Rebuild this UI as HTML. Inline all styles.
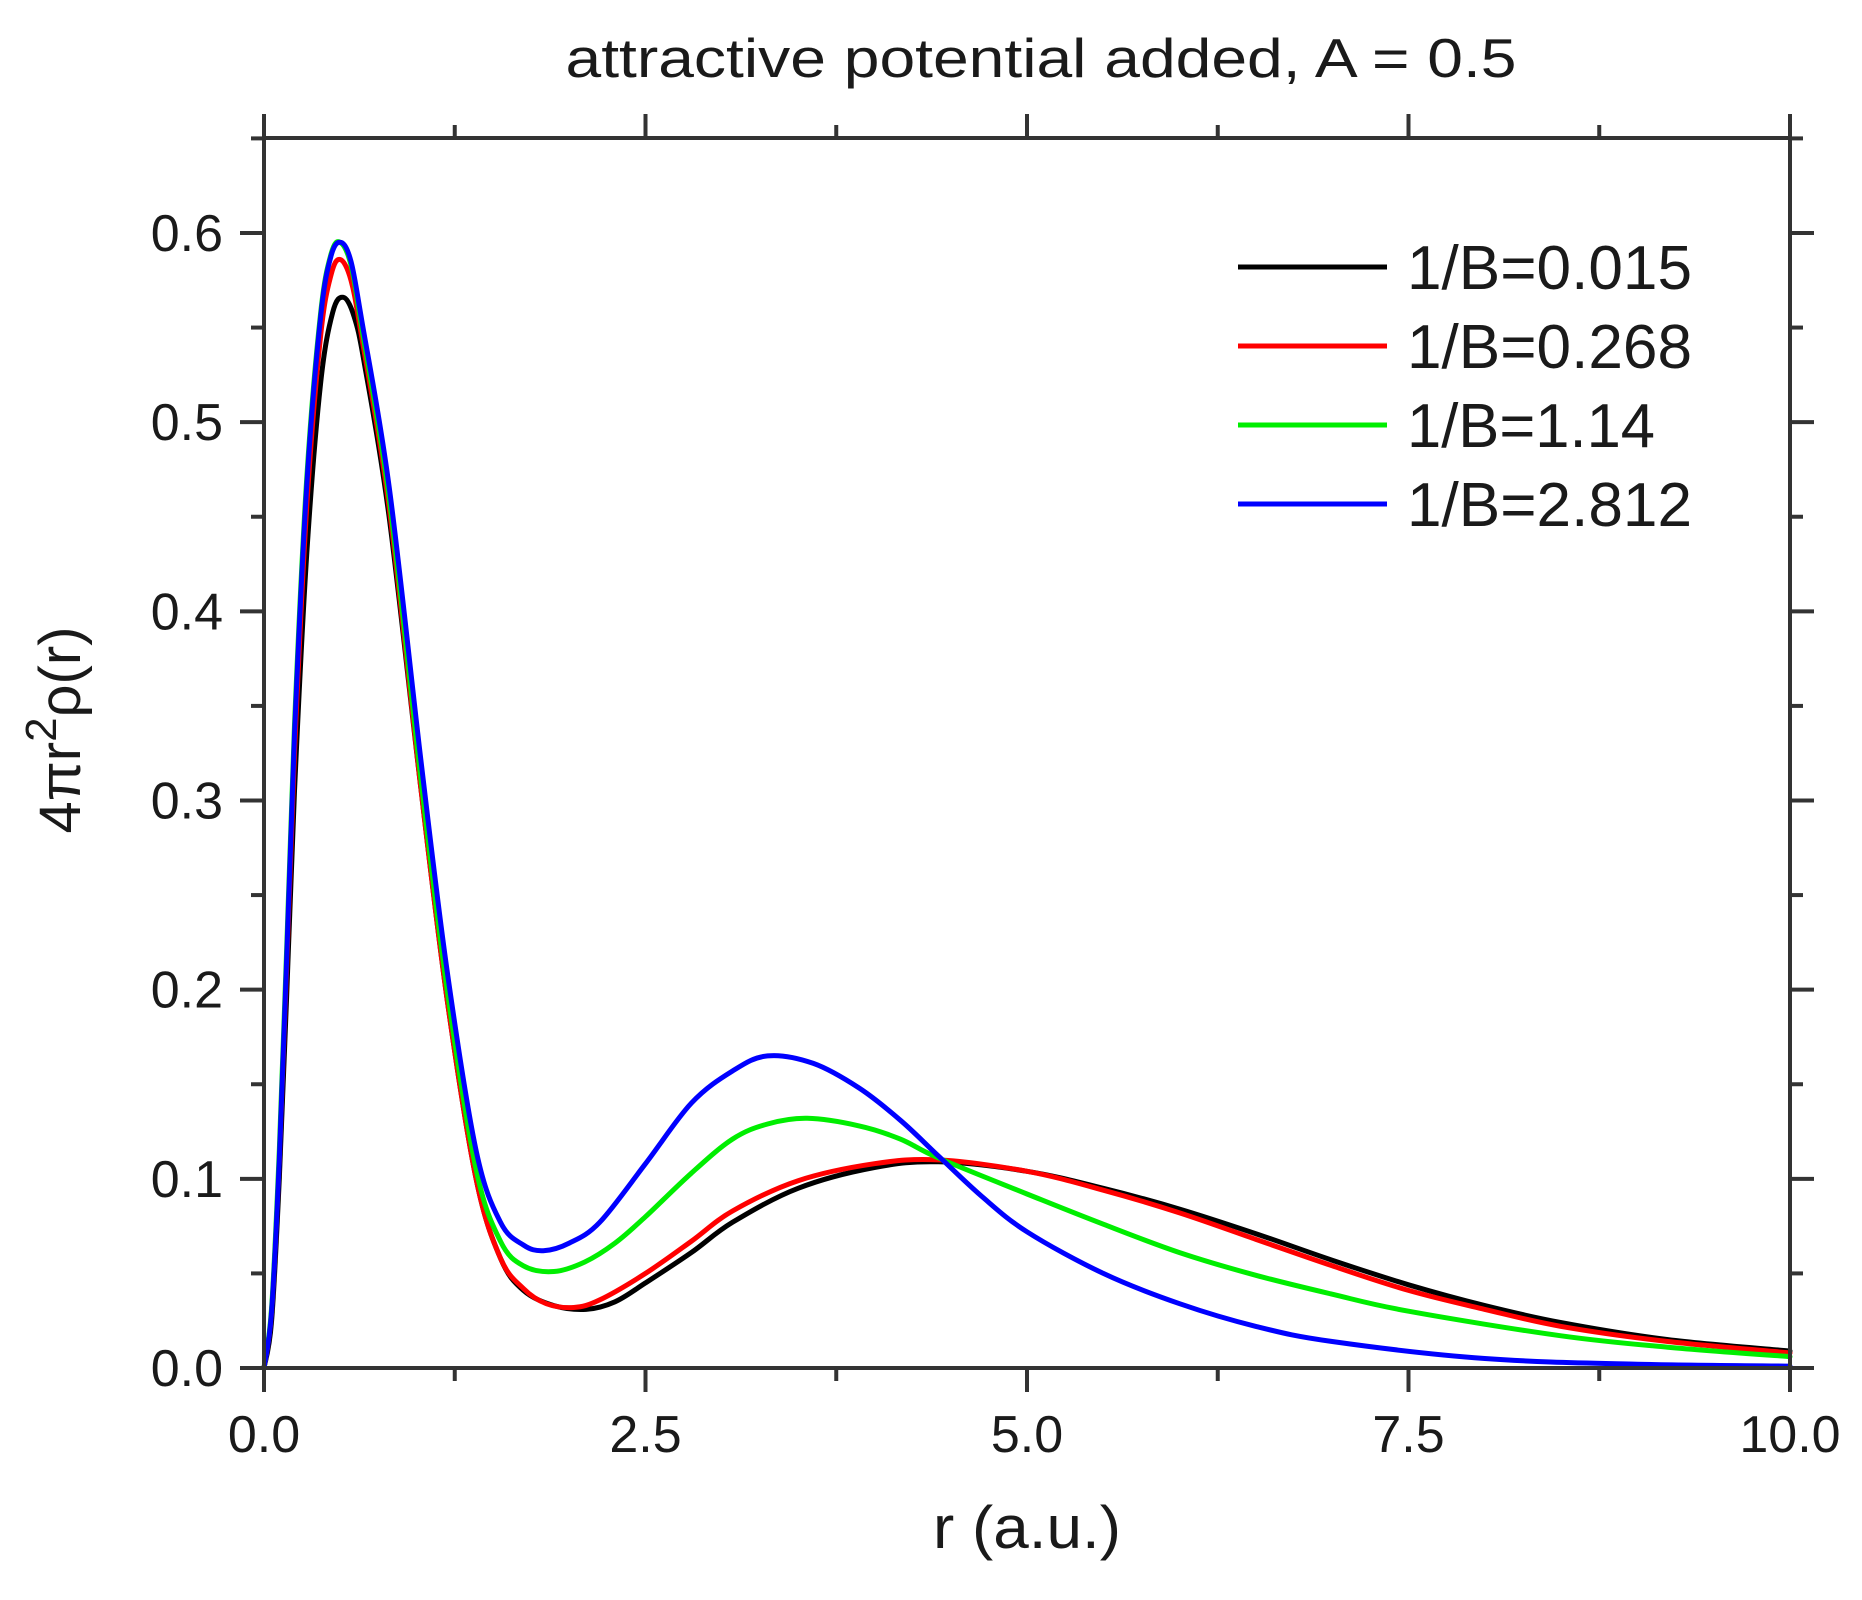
<!DOCTYPE html>
<html><head><meta charset="utf-8"><style>
html,body{margin:0;padding:0;background:#fff;}
svg{display:block;}
text{font-family:"Liberation Sans",Arial,sans-serif;fill:#1a1a1a;}
</style></head><body>
<svg id="s" width="1862" height="1600" viewBox="0 0 1862 1600" xmlns="http://www.w3.org/2000/svg">
<g id="curves" fill="none" stroke-width="5" stroke-linejoin="round" stroke-linecap="round"></g>
<g id="axes" stroke="#333" stroke-width="4" fill="none"></g>
<text x="1041" y="77" font-size="55" text-anchor="middle" textLength="951" lengthAdjust="spacingAndGlyphs">attractive potential added, A = 0.5</text>
<g font-size="52" text-anchor="end" id="yt"></g>
<g font-size="52" text-anchor="middle" id="xt"></g>
<text x="1027" y="1548" font-size="60" text-anchor="middle" textLength="188" lengthAdjust="spacingAndGlyphs">r (a.u.)</text>
<text transform="translate(80,730) rotate(-90)" font-size="58" text-anchor="middle">4πr<tspan font-size="44" dy="-24">2</tspan><tspan dy="24">ρ(r)</tspan></text>
<g font-size="62">
<line x1="1238" y1="267" x2="1387" y2="267" stroke="#000" stroke-width="5"/>
<text x="1407" y="289" textLength="285" lengthAdjust="spacingAndGlyphs">1/B=0.015</text>
<line x1="1238" y1="346" x2="1387" y2="346" stroke="#f00" stroke-width="5"/>
<text x="1407" y="368" textLength="285" lengthAdjust="spacingAndGlyphs">1/B=0.268</text>
<line x1="1238" y1="425" x2="1387" y2="425" stroke="#0e0" stroke-width="5"/>
<text x="1407" y="447" textLength="248" lengthAdjust="spacingAndGlyphs">1/B=1.14</text>
<line x1="1238" y1="504" x2="1387" y2="504" stroke="#00f" stroke-width="5"/>
<text x="1407" y="526" textLength="285" lengthAdjust="spacingAndGlyphs">1/B=2.812</text>
</g>
</svg>
<script>
var NS="http://www.w3.org/2000/svg";
var X0=264,X1=1790,Y0=1368,YT=138;
function px(r){return X0+r*(X1-X0)/10;}
function py(v){return Y0-v*1891.7;}
function el(n,a,p){var e=document.createElementNS(NS,n);for(var k in a)e.setAttribute(k,a[k]);p.appendChild(e);return e;}
var ax=document.getElementById('axes');
el('rect',{x:X0,y:YT,width:X1-X0,height:Y0-YT},ax);
for(var i=0;i<=8;i++){var r=i*1.25,x=px(r),L=(i%2==0)?24:13;
 el('line',{x1:x,y1:Y0,x2:x,y2:Y0+L},ax);el('line',{x1:x,y1:YT,x2:x,y2:YT-L},ax);}
for(var i=0;i<=13;i++){var v=i*0.05,y=py(v),L=(i%2==0)?24:13;
 el('line',{x1:X0,y1:y,x2:X0-L,y2:y},ax);el('line',{x1:X1,y1:y,x2:X1+L,y2:y},ax);}
var yt=document.getElementById('yt');
for(var i=0;i<=6;i++){var t=el('text',{x:223,y:py(i/10)+18},yt);t.textContent=(i/10).toFixed(1);}
var xt=document.getElementById('xt');
["0.0","2.5","5.0","7.5","10.0"].forEach(function(s,i){var t=el('text',{x:px(i*2.5),y:1452},xt);t.textContent=s;});
var D={
"#000":[[0,0],[0.05,0.025],[0.1,0.1],[0.15,0.2],[0.2,0.305],[0.28,0.43],[0.37,0.52],[0.45,0.558],[0.52,0.566],[0.59,0.556],[0.66,0.53],[0.82,0.45],[1.03,0.305],[1.2,0.195],[1.39,0.1],[1.55,0.058],[1.7,0.041],[1.9,0.033],[2.11,0.031],[2.3,0.035],[2.5,0.045],[2.8,0.061],[3.07,0.077],[3.5,0.095],[4.0,0.106],[4.42,0.109],[5,0.104],[5.5,0.095],[6,0.084],[6.5,0.071],[7,0.057],[7.5,0.044],[8,0.033],[8.5,0.024],[9.2,0.015],[10,0.009]],
"#f00":[[0,0],[0.05,0.03],[0.1,0.11],[0.15,0.215],[0.2,0.325],[0.28,0.455],[0.37,0.545],[0.44,0.578],[0.5,0.586],[0.57,0.575],[0.64,0.545],[0.82,0.455],[1.03,0.305],[1.2,0.195],[1.39,0.1],[1.55,0.058],[1.7,0.042],[1.85,0.034],[2.03,0.032],[2.2,0.036],[2.5,0.05],[2.8,0.067],[3.07,0.083],[3.5,0.099],[4.0,0.108],[4.42,0.110],[5,0.104],[5.5,0.094],[6,0.082],[6.5,0.068],[7,0.054],[7.5,0.041],[8,0.031],[8.5,0.022],[9.2,0.014],[10,0.008]],
"#0e0":[[0,0],[0.05,0.032],[0.1,0.115],[0.15,0.225],[0.2,0.34],[0.28,0.47],[0.37,0.557],[0.44,0.589],[0.5,0.595],[0.57,0.583],[0.64,0.55],[0.82,0.46],[1.03,0.31],[1.2,0.2],[1.39,0.105],[1.55,0.067],[1.7,0.054],[1.9,0.051],[2.1,0.056],[2.3,0.066],[2.5,0.08],[2.8,0.103],[3.07,0.121],[3.3,0.129],[3.56,0.132],[3.9,0.128],[4.17,0.121],[4.42,0.111],[5,0.092],[5.5,0.076],[6,0.061],[6.5,0.049],[7,0.039],[7.5,0.030],[8.5,0.017],[9.2,0.011],[10,0.006]],
"#00f":[[0,0],[0.05,0.03],[0.1,0.11],[0.15,0.22],[0.2,0.335],[0.28,0.466],[0.37,0.555],[0.44,0.588],[0.505,0.595],[0.57,0.585],[0.64,0.554],[0.82,0.466],[1.03,0.32],[1.2,0.21],[1.39,0.115],[1.55,0.077],[1.7,0.065],[1.83,0.062],[2.0,0.066],[2.2,0.077],[2.5,0.108],[2.8,0.140],[3.07,0.157],[3.3,0.165],[3.6,0.161],[3.9,0.148],[4.17,0.131],[4.42,0.112],[4.7,0.091],[5,0.072],[5.5,0.050],[6,0.034],[6.5,0.022],[7,0.014],[8,0.005],[9,0.002],[10,0.001]]};
var cg=document.getElementById('curves');
Object.keys(D).forEach(function(c){
 var p=D[c].map(function(q){return [px(q[0]),py(q[1])];});
 var d="M"+p[0][0].toFixed(1)+","+p[0][1].toFixed(1);
 for(var i=0;i<p.length-1;i++){
  var a=p[Math.max(i-1,0)],b=p[i],e=p[i+1],f=p[Math.min(i+2,p.length-1)];
  var c1=[b[0]+(e[0]-a[0])/6,b[1]+(e[1]-a[1])/6],c2=[e[0]-(f[0]-b[0])/6,e[1]-(f[1]-b[1])/6];
  d+="C"+c1[0].toFixed(1)+","+c1[1].toFixed(1)+" "+c2[0].toFixed(1)+","+c2[1].toFixed(1)+" "+e[0].toFixed(1)+","+e[1].toFixed(1);
 }
 el('path',{d:d,stroke:c},cg);
});
</script>
</body></html>
